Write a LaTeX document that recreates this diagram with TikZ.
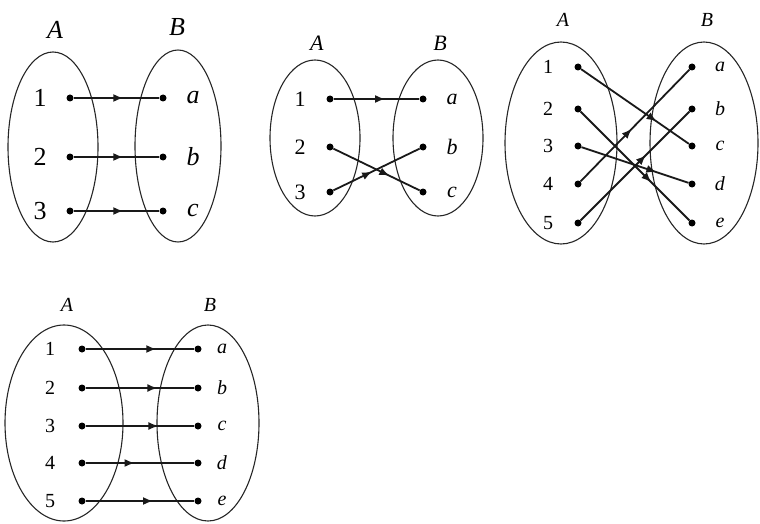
\documentclass[tikz,border=0pt]{standalone}
\usepackage{fontspec}
\setmainfont{Liberation Serif}
\usetikzlibrary{arrows.meta,decorations.markings}
\tikzset{
  setring/.style={draw=black!85,line width=1.1pt},
  dot/.style={circle,fill=black,inner sep=0pt,minimum size=7pt},
  maparrow/.style={line width=1.8pt,black!90,postaction={decorate},
    decoration={markings,mark=at position #1 with
      {\arrow{Latex[length=10pt,width=8pt]}}}},
  maparrow/.default=0.6,
  elem/.style={inner sep=0pt,anchor=center}
}
\begin{document}
\begin{tikzpicture}[x=1pt,y=-1pt]
\useasboundingbox (0,0) rectangle (760,524);

% Diagram 1
\begin{scope}[font=\fontsize{26}{28}\selectfont]
\draw[setring] (53,147) ellipse (45 and 95);
\draw[setring] (178,146) ellipse (43 and 96);
\node[elem] (oneA) at (55,30) {\textit{A}};
\node[elem] (oneB) at (177,27) {\textit{B}};
\foreach \y/\n/\l [count=\i] in {98/1/a,157/2/b,211/3/c}{
  \node[elem] (onen\i) at (40,\y) {\n};
  \node[elem] (onel\i) at (193,\y) {\textit{\l}};
  \node[dot] (onep\i) at (70,\y) {};
  \node[dot] (oneq\i) at (163,\y) {};
}
\foreach \i in {1,2,3}
  \draw[maparrow=0.58,line width=2.5pt] (onep\i) -- (oneq\i);
\end{scope}

% Diagram 2
\begin{scope}[font=\fontsize{22}{24}\selectfont]
\draw[setring] (315,138) ellipse (45 and 78);
\draw[setring] (438,138) ellipse (45 and 78);
\node[elem] (twoA) at (317,43) {\textit{A}};
\node[elem] (twoB) at (440,43) {\textit{B}};
\foreach \y/\n/\l [count=\i] in {99/1/a,147/2/b,192/3/c}{
  \node[elem] (twon\i) at (300,\y) {\n};
  \node[elem] (twol\i) at (452,\y) {\textit{\l}};
  \node[dot] (twop\i) at (330,\y) {};
  \node[dot] (twoq\i) at (423,\y) {};
}
\draw[maparrow=0.6] (twop1) -- (twoq1);
\draw[maparrow=0.65] (twop2) -- (twoq3);
\draw[maparrow=0.45] (twop3) -- (twoq2);
\end{scope}

% Diagram 3
\begin{scope}[font=\fontsize{20}{22}\selectfont]
\draw[setring] (561,143) ellipse (56 and 101);
\draw[setring] (704,143) ellipse (54 and 101);
\node[elem] (thrA) at (563,20) {\textit{A}};
\node[elem] (thrB) at (707,20) {\textit{B}};
\foreach \y/\n/\l [count=\i] in {67/1/a,109/2/b,146/3/c,184/4/d,223/5/e}{
  \node[elem] (thrn\i) at (548,\y) {\n};
  \node[elem] (thrl\i) at (720,\y) {\textit{\l}};
  \node[dot] (thrp\i) at (578,\y) {};
  \node[dot] (thrq\i) at (692,\y) {};
}
\foreach \s/\t/\f in {1/3/0.7,2/5/0.65,3/4/0.7,4/1/0.47,5/2/0.6}
  \draw[maparrow=\f] (thrp\s) -- (thrq\t);
\end{scope}

% Diagram 4
\begin{scope}[font=\fontsize{20}{22}\selectfont]
\draw[setring] (64,423) ellipse (59 and 98);
\draw[setring] (208,423) ellipse (51 and 98);
\node[elem] (fouA) at (67,305) {\textit{A}};
\node[elem] (fouB) at (210,305) {\textit{B}};
\foreach \y/\n/\l/\f [count=\i] in
    {349/1/a/0.65,388/2/b/0.66,426/3/c/0.67,463/4/d/0.45,501/5/e/0.62}{
  \node[elem] (foun\i) at (50,\y) {\n};
  \node[elem] (foul\i) at (222,\y) {\textit{\l}};
  \node[dot] (foup\i) at (82,\y) {};
  \node[dot] (fouq\i) at (198,\y) {};
  \draw[maparrow=\f] (foup\i) -- (fouq\i);
}
\end{scope}

\end{tikzpicture}
\end{document}
